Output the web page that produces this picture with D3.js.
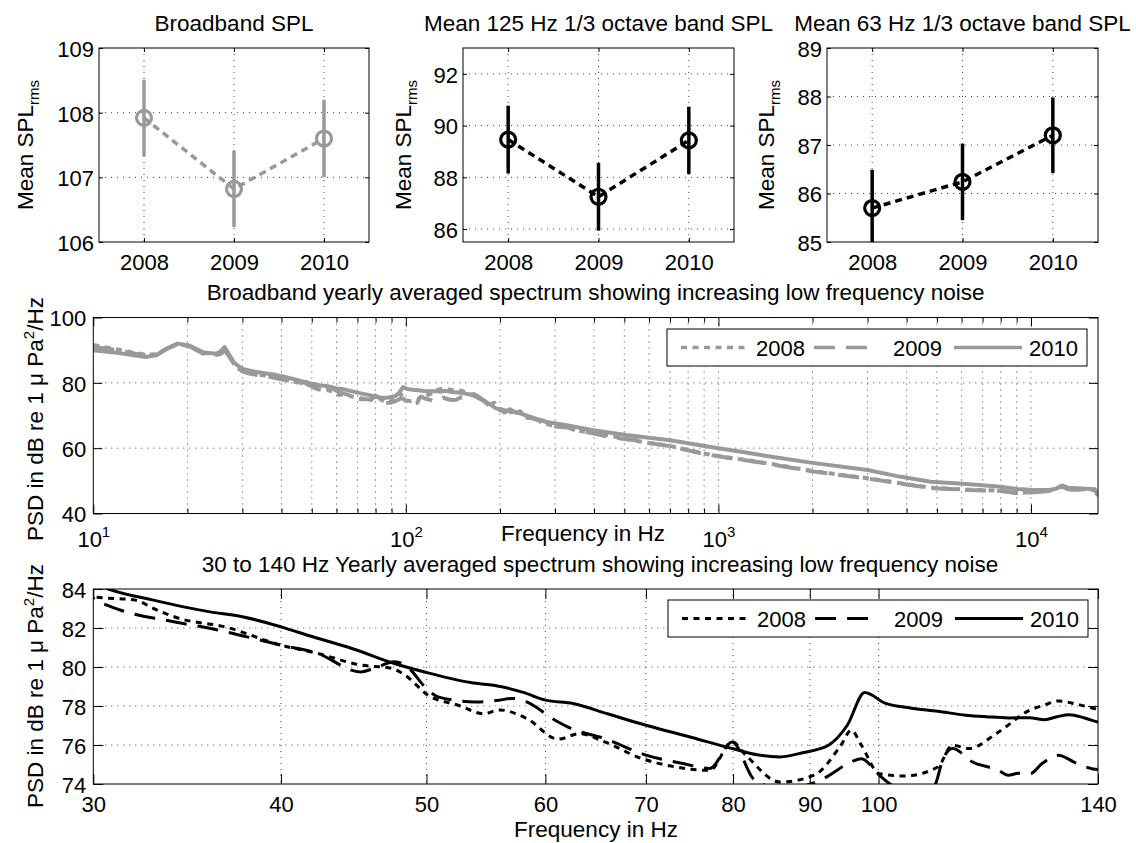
<!DOCTYPE html>
<html><head><meta charset="utf-8">
<script src="https://cdn.jsdelivr.net/npm/d3@7"></script>
<style>
body{margin:0;background:#fff;}
svg text{font-family:"Liberation Sans",Arial,Helvetica,sans-serif;fill:#000;}
</style></head><body>
<svg id="chart" width="1136" height="843"></svg>
<script>
// ---------------- DATA ----------------
const years = [2008, 2009, 2010];
const seriesNames = ["2008", "2009", "2010"];

const broadbandMean = [107.92, 106.82, 107.60];
const broadbandErr  = [0.59, 0.59, 0.60];
const broadbandTicks = [106, 107, 108, 109];

const band125Mean = [89.46, 87.25, 89.43];
const band125Err  = [1.31, 1.31, 1.30];
const band125Ticks = [86, 88, 90, 92];

const band63Mean = [85.70, 86.24, 87.20];
const band63Err  = [0.79, 0.79, 0.78];
const band63Ticks = [85, 86, 87, 88, 89];

// yearly averaged PSD [frequency Hz, dB re 1 uPa^2/Hz]
const psd2008 = [[10,91.6],[11,90.8],[12.1,90.1],[13.5,89.2],[14.7,88.6],[16,88.8],[17.2,90.5],[18.6,91.9],[20.3,91.3],[22.4,89.2],[24.7,88.7],[25.6,89.1],[26.3,90.1],[27,88.8],[28.3,85.5],
 [30,83.6],[32,83.43],[32.9,83.0],[34.2,82.5],[36.7,82.06],[40,81.12],[42.3,80.7],[45.2,80.1],[47.4,79.93],[48.4,79.58],[50.1,78.56],[52.5,78.04],[54.6,77.6],[55.9,77.8],[58.3,77.36],[61.2,76.3],[63.2,76.58],[65.7,76.16],[69.6,75.3],[72.3,74.96],[77.2,74.7],[79.9,76.16],[81.6,75.47],[86,74.1],[90.6,74.45],[94.4,75.99],[95.9,76.76],[97.4,75.99],[100.1,74.53],[104,74.41],[109.5,74.87],[112,75.99],[114.9,75.82],[120.2,76.67],[126.2,77.8],[129,78.05],[131.7,78.26],[135.6,78.09],[140,77.82],
 [150,77.6],[158,76.8],[165,76.2],[175,75.0],[185,73.3],[192,73.9],[200,71.6],[210,72.4],[220,70.5],[232,71.3],[245,69.2],[258,69.6],[270,68.0],[300,66.7],[318,67.2],[350,65.5],[400,64.6],[440,64.0],[500,62.9],[600,61.6],[700,60.7],[874,58.6],[1000,57.6],[1427,55.4],[2000,53.0],[3000,50.8],[4760,47.9],[6220,47.3],[8000,47.0],[9000,46.3],[10000,46.5],[11470,47.0],[12560,48.3],[13100,47.5],[14000,47.4],[16000,47.3],[16384,45.5]];

const psd2009 = [[10,91.0],[11,90.5],[12.1,89.9],[13.5,89.0],[14.7,88.4],[16,88.7],[17.2,90.4],[18.6,91.8],[20.3,91.2],[22.4,89.0],[24.7,88.5],[25.6,88.9],[26.3,89.8],[27,88.6],[28.3,85.3],
 [30,83.52],[31.5,82.84],[33.5,82.4],[36.3,81.9],[40,81.12],[42.3,80.7],[45.2,79.75],[46.1,79.92],[47.6,80.27],[48.4,80.1],[50,78.9],[50.9,78.47],[53.9,78.21],[55.9,78.3],[57,78.39],[58.3,78.21],[60.9,77.27],[62.4,76.85],[65.7,76.33],[70.1,75.47],[74.1,75.05],[77.2,74.8],[79.9,76.16],[82.5,74.28],[84.3,73.9],[86,73.8],[89.1,73.9],[92,74.3],[95.9,75.13],[97.4,75.3],[100.1,74.45],[102.2,73.9],[105,73.6],[108.9,73.9],[110.4,75.3],[112,75.82],[115.5,75.13],[120.2,74.7],[122,74.45],[124,74.55],[126.2,74.53],[128.5,75.05],[131.7,75.47],[135.6,75.05],[140,74.74],
 [145,74.8],[150,75.6],[156,75.2],[160.5,75.7],[165,76.6],[172,75.6],[185,73.0],[200,72.0],[207,70.9],[215,71.9],[230,70.5],[238,71.2],[245,69.5],[260,68.8],[280,68.3],[300,66.6],[330,66.3],[350,65.4],[400,64.5],[450,63.4],[500,62.8],[560,62.3],[600,61.6],[700,60.6],[874,58.5],[1000,57.5],[1427,55.3],[2000,52.9],[3000,50.7],[4760,47.8],[6220,47.2],[8000,46.9],[9000,46.3],[10000,46.4],[11470,46.9],[12560,48.3],[13100,47.4],[14000,47.3],[16000,47.2],[16384,45.5]];

const psd2010 = [[10,90.0],[12.1,89.1],[14.7,87.9],[15.9,88.4],[17.1,90.4],[18.6,92.0],[20.3,91.4],[22.4,89.4],[24.7,88.9],[25.6,89.7],[26.3,90.9],[26.9,89.4],[28.3,86.0],
 [30,84.3],[30.7,84.0],[32.9,83.43],[35.8,82.84],[37.7,82.58],[40,82.06],[42,81.55],[44.6,80.95],[47.6,80.18],[50,79.72],[53.5,79.2],[56,79.0],[58,78.7],[60,78.3],[62.6,78.13],[66,77.6],[70.1,77.0],[75,76.4],[79.9,75.82],[83,75.5],[86,75.39],[89,75.6],[92.6,75.99],[95.3,77.0],[97.9,78.69],[101.1,78.13],[105,77.9],[109.5,77.73],[114.3,77.53],[118,77.45],[122,77.39],[126,77.4],[129,77.3],[131.5,77.45],[134,77.55],[137,77.4],[140,77.18],
 [150,77.0],[164,76.2],[181,74.1],[195,72.1],[233,70.6],[282,68.0],[327,67.0],[398,65.5],[506,64.0],[700,62.4],[874,60.9],[1000,60.0],[1115,59.3],[1427,57.6],[2000,55.5],[3000,53.3],[3800,51.3],[4760,49.7],[6220,49.0],[8000,48.2],[9000,47.5],[10000,47.3],[11470,47.2],[12000,47.6],[12560,48.6],[13100,47.9],[14000,47.7],[16000,47.4],[16384,45.5]];

const bbYTicks = [40, 60, 80, 100];
const bbXMajor = [10, 100, 1000, 10000];
const lfXTicks = [30, 40, 50, 60, 70, 80, 90, 100, 140];
const lfYTicks = [74, 76, 78, 80, 82, 84];

// ---------------- DRAW ----------------
const svg = d3.select("#chart");
const FS = 22, FT = 22.5;
const GRID = {stroke:"#444", "stroke-width":1, "stroke-dasharray":"1,5"};
function applyAttrs(sel, obj){ for (const k in obj) sel.attr(k, obj[k]); return sel; }
let clipId = 0;
function clip(g, x0, y0, w, h){
  const id = "clip" + (clipId++);
  g.append("clipPath").attr("id", id).append("rect").attr("x", x0).attr("y", y0).attr("width", w).attr("height", h);
  return "url(#" + id + ")";
}
function styleAxis(g){
  g.select(".domain").remove();
  g.selectAll(".tick line").attr("stroke", "#000").attr("stroke-width", 1);
  g.attr("font-family", null).attr("font-size", null);
  g.selectAll(".tick text").attr("font-size", FS);
}

// ---- top panels ----
const topPanels = [
  {title:"Broadband SPL", mean:broadbandMean, err:broadbandErr, ticks:broadbandTicks, yDom:[106,109], left:99, right:369, color:"#999999", labelX:33},
  {title:"Mean 125 Hz 1/3 octave band SPL", mean:band125Mean, err:band125Err, ticks:band125Ticks, yDom:[85.5,93], left:463, right:734, color:"#000000", labelX:411},
  {title:"Mean 63 Hz 1/3 octave band SPL", mean:band63Mean, err:band63Err, ticks:band63Ticks, yDom:[85,89], left:827, right:1098, color:"#000000", labelX:774}
];
const TT = 48, TB = 242;
topPanels.forEach(p => {
  const x = d3.scaleLinear().domain([2007.5, 2010.5]).range([p.left, p.right]);
  const y = d3.scaleLinear().domain(p.yDom).range([TB, TT]);
  const g = svg.append("g");
  g.selectAll(null).data(years).join("line")
    .attr("x1", d => x(d)).attr("x2", d => x(d)).attr("y1", TT).attr("y2", TB).call(s => applyAttrs(s, GRID));
  g.selectAll(null).data(p.ticks.filter(t => t > p.yDom[0] && t < p.yDom[1])).join("line")
    .attr("x1", p.left).attr("x2", p.right).attr("y1", d => y(d)).attr("y2", d => y(d)).call(s => applyAttrs(s, GRID));
  const ax = g.append("g").attr("transform", `translate(0,${TB})`)
    .call(d3.axisBottom(x).tickValues(years).tickFormat(d3.format("d")).tickSize(-4).tickSizeOuter(0));
  styleAxis(ax); ax.selectAll(".tick text").attr("y", 28).attr("dy", null);
  styleAxis(g.append("g").attr("transform", `translate(0,${TT})`)
    .call(d3.axisTop(x).tickValues(years).tickFormat("").tickSize(-4).tickSizeOuter(0)));
  const ay = g.append("g").attr("transform", `translate(${p.left},0)`)
    .call(d3.axisLeft(y).tickValues(p.ticks).tickFormat(d3.format("d")).tickSize(-4).tickSizeOuter(0).tickPadding(5));
  styleAxis(ay); ay.selectAll(".tick text").attr("dy", "0.38em");
  styleAxis(g.append("g").attr("transform", `translate(${p.right},0)`)
    .call(d3.axisRight(y).tickValues(p.ticks).tickFormat("").tickSize(-4).tickSizeOuter(0)));
  g.append("rect").attr("x", p.left).attr("y", TT).attr("width", p.right - p.left).attr("height", TB - TT)
    .attr("fill", "none").attr("stroke", "#000").attr("stroke-width", 1);
  const cp = clip(g, p.left, TT, p.right - p.left, TB - TT);
  const d = g.append("g").attr("clip-path", cp);
  d.selectAll(null).data(years).join("line")
    .attr("x1", (v) => x(v)).attr("x2", (v) => x(v))
    .attr("y1", (v, i) => y(p.mean[i] - p.err[i])).attr("y2", (v, i) => y(p.mean[i] + p.err[i]))
    .attr("stroke", p.color).attr("stroke-width", 3.5);
  d.append("path").datum(years.map((v, i) => [v, p.mean[i]]))
    .attr("d", d3.line().x(v => x(v[0])).y(v => y(v[1])))
    .attr("fill", "none").attr("stroke", p.color).attr("stroke-width", 3.5).attr("stroke-dasharray", "7,5");
  d.selectAll(null).data(years).join("circle")
    .attr("cx", v => x(v)).attr("cy", (v, i) => y(p.mean[i])).attr("r", 7.5)
    .attr("fill", "none").attr("stroke", p.color).attr("stroke-width", 3.2);
  g.append("text").attr("x", (p.left + p.right) / 2).attr("y", 30.5).attr("text-anchor", "middle")
    .attr("font-size", FT).text(p.title);
  const yl = g.append("text").attr("transform", `translate(${p.labelX},${(TT + TB) / 2}) rotate(-90)`)
    .attr("text-anchor", "middle").attr("font-size", FT);
  yl.append("tspan").text("Mean SPL");
  yl.append("tspan").attr("font-size", 15).attr("dy", 6).text("rms");
});

// ---- spectrum panels ----
const lineStyles = [
  {dash:"6,5.5"},
  {dash:"21,11"},
  {dash:null}
];
function psdLabel(g, x, y){
  const t = g.append("text").attr("transform", `translate(${x},${y}) rotate(-90)`)
    .attr("text-anchor", "middle").attr("font-size", FT);
  t.append("tspan").text("PSD in dB re 1 \u03bc Pa");
  t.append("tspan").attr("font-size", 15).attr("dy", -9).text("2");
  t.append("tspan").attr("dy", 9).text("/Hz");
}
function legend(g, x0, y0, color, width){
  const w = 420, h = 37;
  g.append("rect").attr("x", x0).attr("y", y0).attr("width", w).attr("height", h)
    .attr("fill", "#fff").attr("stroke", "#000").attr("stroke-width", 1);
  const lineX = [14, 147, 287];
  const lineW = [64, 58, 68];
  const textX = [89, 226, 362];
  seriesNames.forEach((n, i) => {
    g.append("line").attr("x1", x0 + lineX[i]).attr("x2", x0 + lineX[i] + lineW[i])
      .attr("y1", y0 + h / 2).attr("y2", y0 + h / 2)
      .attr("stroke", color).attr("stroke-width", width)
      .attr("stroke-dasharray", lineStyles[i].dash);
    g.append("text").attr("x", x0 + textX[i]).attr("y", y0 + h / 2 + 8).attr("font-size", FS).text(n);
  });
}

// middle: broadband
(function(){
  const L = 93.3, R = 1098, T = 317.5, B = 513.5;
  const x = d3.scaleLog().domain([10, 16384]).range([L, R]);
  const y = d3.scaleLinear().domain([40, 100]).range([B, T]);
  const g = svg.append("g");
  const minor = [];
  [10, 100, 1000, 10000].forEach(dec => { for (let k = 2; k <= 9; k++) if (dec * k <= 16384) minor.push(dec * k); });
  const gridX = minor.concat([100, 1000, 10000]);
  g.selectAll(null).data(gridX).join("line").attr("x1", d => x(d)).attr("x2", d => x(d)).attr("y1", T).attr("y2", B).call(s => applyAttrs(s, GRID));
  g.selectAll(null).data([60, 80]).join("line").attr("x1", L).attr("x2", R).attr("y1", d => y(d)).attr("y2", d => y(d)).call(s => applyAttrs(s, GRID));
  const axb = g.append("g").attr("transform", `translate(0,${B})`)
    .call(d3.axisBottom(x).tickValues(bbXMajor).tickSize(-9).tickSizeOuter(0));
  styleAxis(axb);
  axb.selectAll(".tick text").each(function(d){
    const t = d3.select(this); t.text(null).attr("y", 33).attr("dy", null).attr("text-anchor", "middle");
    t.append("tspan").text("10");
    t.append("tspan").attr("font-size", 15).attr("dy", -10).text(Math.round(Math.log10(d)));
  });
  styleAxis(g.append("g").attr("transform", `translate(0,${B})`).call(d3.axisBottom(x).tickValues(minor).tickFormat("").tickSize(-5).tickSizeOuter(0)));
  styleAxis(g.append("g").attr("transform", `translate(0,${T})`).call(d3.axisTop(x).tickValues(bbXMajor).tickFormat("").tickSize(-9).tickSizeOuter(0)));
  styleAxis(g.append("g").attr("transform", `translate(0,${T})`).call(d3.axisTop(x).tickValues(minor).tickFormat("").tickSize(-5).tickSizeOuter(0)));
  const ay = g.append("g").attr("transform", `translate(${L},0)`)
    .call(d3.axisLeft(y).tickValues(bbYTicks).tickFormat(d3.format("d")).tickSize(-9).tickSizeOuter(0).tickPadding(7));
  styleAxis(ay); ay.selectAll(".tick text").attr("dy", "0.38em");
  styleAxis(g.append("g").attr("transform", `translate(${R},0)`).call(d3.axisRight(y).tickValues(bbYTicks).tickFormat("").tickSize(-9).tickSizeOuter(0)));
  const cp = clip(g, L, T, R - L, B - T);
  const dg = g.append("g").attr("clip-path", cp);
  const line = d3.line().x(d => x(d[0])).y(d => y(d[1]));
  [psd2008, psd2009, psd2010].forEach((s, i) => {
    dg.append("path").datum(s).attr("d", line).attr("fill", "none").attr("stroke", "#999999")
      .attr("stroke-width", 4).attr("stroke-dasharray", lineStyles[i].dash).attr("stroke-linejoin", "round");
  });
  g.append("rect").attr("x", L).attr("y", T).attr("width", R - L).attr("height", B - T).attr("fill", "none").attr("stroke", "#000");
  legend(g, 667, 329, "#999999", 3.5);
  g.append("text").attr("x", (L + R) / 2).attr("y", 300).attr("text-anchor", "middle").attr("font-size", FT)
    .text("Broadband yearly averaged spectrum showing increasing low frequency noise");
  g.append("text").attr("x", 583).attr("y", 541).attr("text-anchor", "middle").attr("font-size", FT).text("Frequency in Hz");
  psdLabel(g, 43, 419);
})();

// bottom: 30-140 Hz
(function(){
  const L = 93.3, R = 1098, T = 589, B = 784;
  const x = d3.scaleLog().domain([30, 140]).range([L, R]);
  const y = d3.scaleLinear().domain([74, 84]).range([B, T]);
  const g = svg.append("g");
  const inner = lfXTicks.filter(v => v > 30 && v < 140);
  g.selectAll(null).data(inner).join("line").attr("x1", d => x(d)).attr("x2", d => x(d)).attr("y1", T).attr("y2", B).call(s => applyAttrs(s, GRID));
  g.selectAll(null).data(lfYTicks.filter(v => v > 74 && v < 84)).join("line").attr("x1", L).attr("x2", R).attr("y1", d => y(d)).attr("y2", d => y(d)).call(s => applyAttrs(s, GRID));
  const axb = g.append("g").attr("transform", `translate(0,${B})`)
    .call(d3.axisBottom(x).tickValues(lfXTicks).tickFormat(d3.format("d")).tickSize(-10).tickSizeOuter(0));
  styleAxis(axb); axb.selectAll(".tick text").attr("y", 27.5).attr("dy", null);
  styleAxis(g.append("g").attr("transform", `translate(0,${T})`).call(d3.axisTop(x).tickValues(lfXTicks).tickFormat("").tickSize(-10).tickSizeOuter(0)));
  const ay = g.append("g").attr("transform", `translate(${L},0)`)
    .call(d3.axisLeft(y).tickValues(lfYTicks).tickFormat(d3.format("d")).tickSize(-10).tickSizeOuter(0).tickPadding(7));
  styleAxis(ay); ay.selectAll(".tick text").attr("dy", "0.38em");
  styleAxis(g.append("g").attr("transform", `translate(${R},0)`).call(d3.axisRight(y).tickValues(lfYTicks).tickFormat("").tickSize(-10).tickSizeOuter(0)));
  const cp = clip(g, L, T, R - L, B - T);
  const dg = g.append("g").attr("clip-path", cp);
  const line = d3.line().x(d => x(d[0])).y(d => y(d[1])).curve(d3.curveMonotoneX);
  [psd2008, psd2009, psd2010].forEach((s, i) => {
    dg.append("path").datum(s.filter(d => d[0] >= 28 && d[0] <= 150)).attr("d", line).attr("fill", "none").attr("stroke", "#000")
      .attr("stroke-width", 3).attr("stroke-dasharray", lineStyles[i].dash).attr("stroke-linejoin", "round");
  });
  g.append("rect").attr("x", L).attr("y", T).attr("width", R - L).attr("height", B - T).attr("fill", "none").attr("stroke", "#000");
  legend(g, 668, 600, "#000", 3);
  g.append("text").attr("x", 600).attr("y", 571.5).attr("text-anchor", "middle").attr("font-size", FT)
    .text("30 to 140 Hz Yearly averaged spectrum showing increasing low frequency noise");
  g.append("text").attr("x", 596).attr("y", 837).attr("text-anchor", "middle").attr("font-size", FT).text("Frequency in Hz");
  psdLabel(g, 43, 686);
})();
</script>
</body></html>
